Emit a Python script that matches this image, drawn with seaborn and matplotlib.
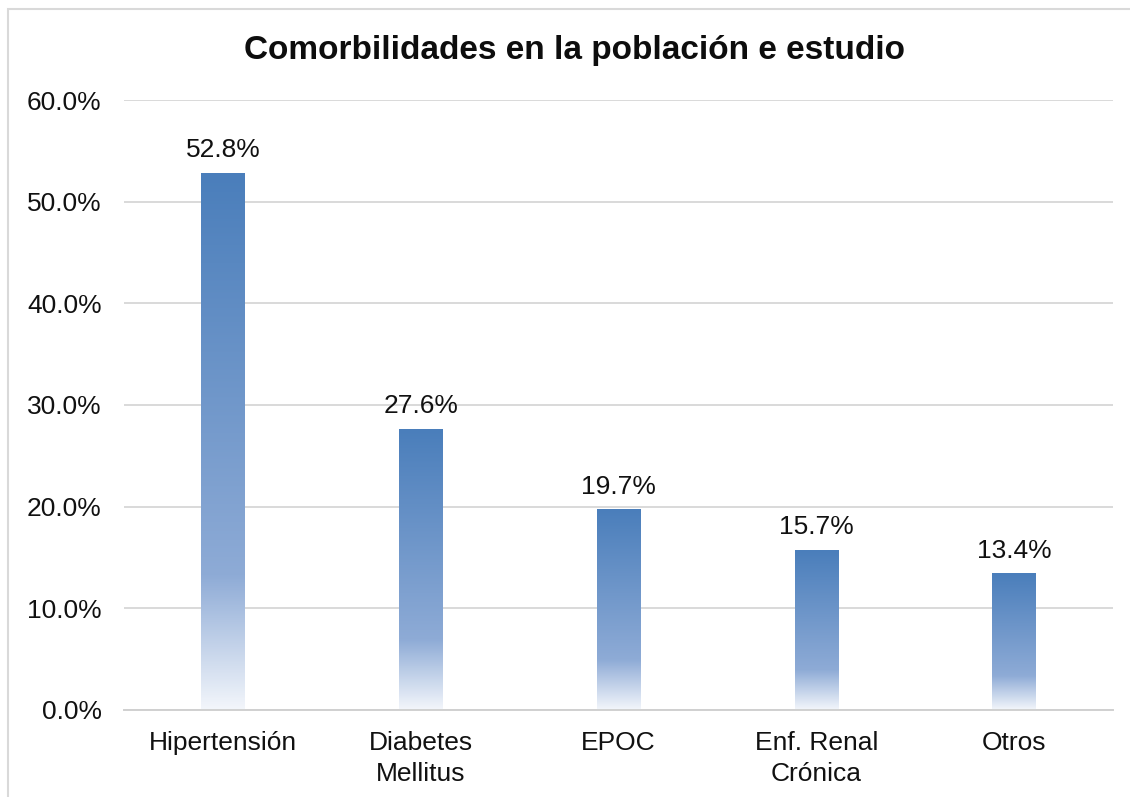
import numpy as np
import pandas as pd
import matplotlib.pyplot as plt
from matplotlib.colors import LinearSegmentedColormap
from matplotlib.patches import Rectangle
from matplotlib.ticker import FuncFormatter
import seaborn as sns

# data
categorias = ["Hipertensión", "Diabetes\nMellitus", "EPOC", "Enf. Renal\nCrónica", "Otros"]
porcentajes = [52.8, 27.6, 19.7, 15.7, 13.4]

df = pd.DataFrame({"cat": categorias, "pct": porcentajes})

sns.set_style("white")
plt.rcParams['font.family'] = ['Liberation Sans', 'DejaVu Sans']

fig = plt.figure(figsize=(11.3, 7.97), dpi=100)
ax = fig.add_axes([0.1097, 0.1092, 0.8753, 0.7653])

sns.barplot(data=df, x="cat", y="pct", ax=ax, width=0.22, color="#4F81BD", zorder=2)

# gradient fill: dark blue at top, lighter, then fading to white near the base
cmap = LinearSegmentedColormap.from_list(
    "grad", [(0.0, "#F3F6FB"), (0.25, "#8EABD6"), (1.0, "#4A7EBB")])
grad = np.linspace(0, 1, 256).reshape(-1, 1)
for p in ax.patches:
    x0, y0 = p.get_x(), p.get_y()
    w, h = p.get_width(), p.get_height()
    p.set_facecolor("none")
    p.set_edgecolor("none")
    ax.imshow(grad, cmap=cmap, origin="lower", aspect="auto",
              extent=[x0, x0 + w, y0, y0 + h], zorder=2)
    ax.annotate(f"{h:.1f}%", (x0 + w / 2, h), xytext=(0, 8),
                textcoords="offset points", ha="center", va="bottom",
                fontsize=19, color="#111111")

ax.set_xlim(-0.5, len(categorias) - 0.5)
ax.set_ylim(0, 60)
ax.set_yticks(np.arange(0, 61, 10))
ax.yaxis.set_major_formatter(FuncFormatter(lambda v, _: f"{v:.1f}%"))
ax.grid(axis="y", color="#D9D9D9", linewidth=1.4, zorder=0)
ax.set_axisbelow(True)
for s in ["top", "right", "left"]:
    ax.spines[s].set_visible(False)
ax.spines["bottom"].set_color("#D0D0D0")
ax.spines["bottom"].set_linewidth(1.4)
ax.tick_params(axis="both", length=0, labelsize=19, labelcolor="#111111")
ax.tick_params(axis="y", pad=16)
ax.tick_params(axis="x", pad=15)
for lbl in ax.get_xticklabels():
    lbl.set_linespacing(1.38)
ax.set_xlabel("")
ax.set_ylabel("")

fig.text(0.508, 0.937, "Comorbilidades en la población e estudio",
         ha="center", va="center", fontsize=24, fontweight="bold", color="#0d0d0d")

# outer chart border (right and bottom edges fall outside the picture)
fig.patches.append(Rectangle((8 / 1130, -0.05), 1.2, 1 - 9 / 797 + 0.05,
                             transform=fig.transFigure, fill=False,
                             edgecolor="#D9D9D9", linewidth=1.5))

fig.savefig("out.png", dpi=100)
